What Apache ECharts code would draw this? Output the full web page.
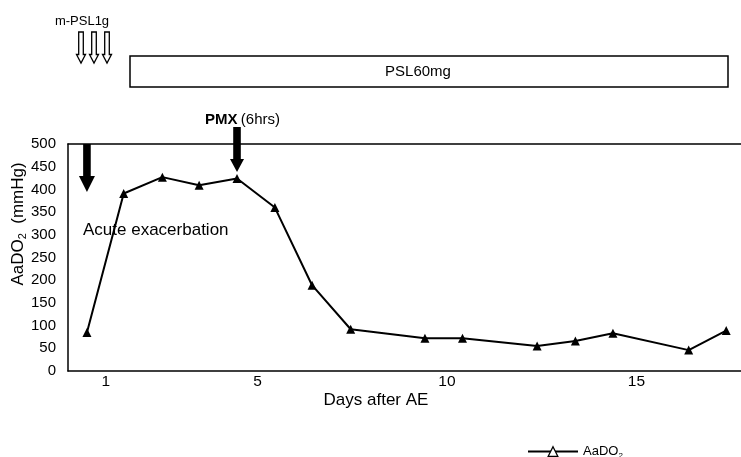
<!DOCTYPE html>
<html>
<head>
<meta charset="utf-8">
<script src="https://cdn.jsdelivr.net/npm/echarts@6/dist/echarts.min.js"></script>
<style>
  html, body {margin: 0; padding: 0; background: #fff}
  #chart {width: 741px; height: 457px}
</style>
</head>
<body>
<div id="chart"></div>
<script>
// days after AE
const days = [0.5, 1.47, 2.49, 3.46, 4.46, 5.46, 6.44, 7.46, 9.42, 10.41, 12.38, 13.39, 14.38, 16.38, 17.37]
// AaDO2 (mmHg)
const aado2 = [85, 391, 427, 409, 424, 360, 189, 92, 72, 72, 55, 66, 83, 46, 89]
const xTicks = [1, 5, 10, 15]
const xMax = 17.76

const font = 'Liberation Sans, Arial, sans-serif'
const black = '#000'

const chart = echarts.init(document.getElementById('chart'), null, {renderer: 'canvas'})

chart.setOption({
  animation: false,
  backgroundColor: '#fff',
  grid: {left: 68, right: 0, top: 144, bottom: 86},
  xAxis: [{
    type: 'value',
    min: 0,
    max: xMax,
    axisLine: {lineStyle: {color: black, width: 1.5}},
    axisTick: {show: false},
    splitLine: {show: false},
    axisLabel: {customValues: xTicks, color: black, fontSize: 15.5, fontFamily: font, margin: 3},
  }, {
    // only the top line of the box, no right side
    type: 'value',
    position: 'top',
    min: 0,
    max: xMax,
    axisLine: {lineStyle: {color: black, width: 1.5}},
    axisTick: {show: false},
    axisLabel: {show: false},
    splitLine: {show: false},
  }],
  yAxis: {
    type: 'value',
    min: 0,
    max: 500,
    interval: 50,
    axisLine: {show: true, lineStyle: {color: black, width: 1.5}},
    axisTick: {show: false},
    splitLine: {show: false},
    axisLabel: {color: black, fontSize: 15, fontFamily: font, margin: 12, padding: [6, 0, 0, 0]},
  },
  legend: {
    left: 522,
    top: 440,
    itemWidth: 50,
    itemHeight: 12,
    data: [{name: 'AaDO2', itemStyle: {color: '#fff', borderColor: black, borderWidth: 1.3}}],
    formatter: () => '{a|AaDO}{s|2}',
    textStyle: {
      color: black,
      rich: {
        a: {fontSize: 13, fontFamily: font, color: black},
        s: {fontSize: 8, fontFamily: font, color: black, padding: [8, 0, 0, 0]},
      },
    },
  },
  series: [{
    type: 'line',
    name: 'AaDO2',
    xAxisIndex: 0,
    data: days.map((d, i) => [d, aado2[i]]),
    symbol: 'triangle',
    symbolSize: 9,
    itemStyle: {color: black},
    lineStyle: {color: black, width: 2},
  }],
})

// down arrow as polygon
const arrow = (cx, y0, y1, sw, hw, hh, filled) => ({
  type: 'polygon',
  shape: {points: [
    [cx - sw, y0], [cx + sw, y0], [cx + sw, y1 - hh], [cx + hw, y1 - hh],
    [cx, y1], [cx - hw, y1 - hh], [cx - sw, y1 - hh],
  ]},
  style: filled ? {fill: black} : {fill: '#fff', stroke: black, lineWidth: 1.3},
  z: 10,
})

const text = (x, y, str, size, extra) => ({
  type: 'text',
  x, y,
  style: Object.assign({text: str, fill: black, font: size + 'px ' + font, verticalAlign: 'middle'}, extra || {}),
  z: 10,
})

const aeX = chart.convertToPixel({seriesIndex: 0}, [days[0], 0])[0]
const pmxX = chart.convertToPixel({seriesIndex: 0}, [days[4], 0])[0]

chart.setOption({
  graphic: [
    text(82, 21, 'm-PSL1g', 13, {align: 'center'}),
    arrow(81, 32, 63, 2.3, 4.5, 8.5, false),
    arrow(94, 32, 63, 2.3, 4.5, 8.5, false),
    arrow(107, 32, 63, 2.3, 4.5, 8.5, false),
    {type: 'rect', shape: {x: 130, y: 56, width: 598, height: 31}, style: {fill: 'none', stroke: black, lineWidth: 1.5}, z: 10},
    text(418, 72, 'PSL60mg', 15, {align: 'center'}),
    {
      type: 'text', x: 205, y: 120, z: 10,
      style: {
        text: '{b|PMX} {n|(6hrs)}',
        verticalAlign: 'middle',
        rich: {
          b: {fontSize: 15, fontWeight: 'bold', fontFamily: font, fill: black},
          n: {fontSize: 15, fontFamily: font, fill: black},
        },
      },
    },
    arrow(pmxX, 127, 172, 3.8, 7, 13, true),
    arrow(aeX, 144, 192, 3.8, 8, 16, true),
    text(83, 230, 'Acute exacerbation', 17),
    text(376, 400, 'Days after AE', 17, {align: 'center'}),
    {
      type: 'text', x: 18, y: 224, rotation: Math.PI / 2, z: 10,
      style: {
        text: '{a|AaDO}{s|2}{a|  (mmHg)}',
        align: 'center',
        verticalAlign: 'middle',
        rich: {
          a: {fontSize: 17, fontFamily: font, fill: black},
          s: {fontSize: 11, fontFamily: font, fill: black, padding: [9, 0, 0, 0]},
        },
      },
    },
  ],
})
</script>
</body>
</html>
